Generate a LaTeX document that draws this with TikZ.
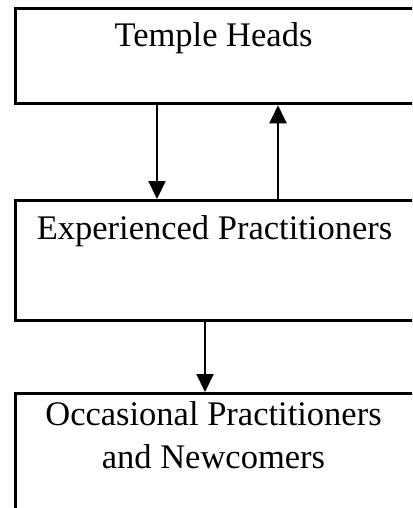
\documentclass[tikz,border=0pt]{standalone}
\usepackage{fontspec}
\setmainfont{Liberation Serif}
\usetikzlibrary{arrows.meta}
\begin{document}
\begin{tikzpicture}[x=1pt,y=-1pt,
  box/.style={draw=black, line width=2.8pt, fill=none, inner sep=0pt},
  lbl/.style={font=\fontsize{34.5}{43}\selectfont, inner sep=0pt, anchor=base, align=center},
  arr/.style={line width=2.2pt, -{Triangle[width=17pt,length=18pt]}}]
\useasboundingbox (0,0) rectangle (412,508);
\clip (0,0) rectangle (412,508);
% boxes (right and lower parts run past the page edge)
\node[box, minimum width=416pt, minimum height=95pt, anchor=north west] (th) at (13.7,7.5) {};
\node[box, minimum width=416pt, minimum height=120pt, anchor=north west] (ep) at (13.7,199) {};
\node[box, minimum width=416pt, minimum height=140pt, anchor=north west] (oc) at (13.7,392) {};
% labels
\node[lbl] (thT) at (213.5,47) {Temple Heads};
\node[lbl] (epT) at (214.5,239) {Experienced Practitioners};
\node[lbl] (ocT) at (213.5,468) {Occasional Practitioners\\and Newcomers};
% connector positions
\coordinate (xa) at (157,0);
\coordinate (xb) at (278,0);
\coordinate (xc) at (205,0);
\draw[arr] (th.south -| xa) -- (ep.north -| xa);
\draw[arr] (ep.north -| xb) -- (th.south -| xb);
\draw[arr] (ep.south -| xc) -- (oc.north -| xc);
\end{tikzpicture}
\end{document}
